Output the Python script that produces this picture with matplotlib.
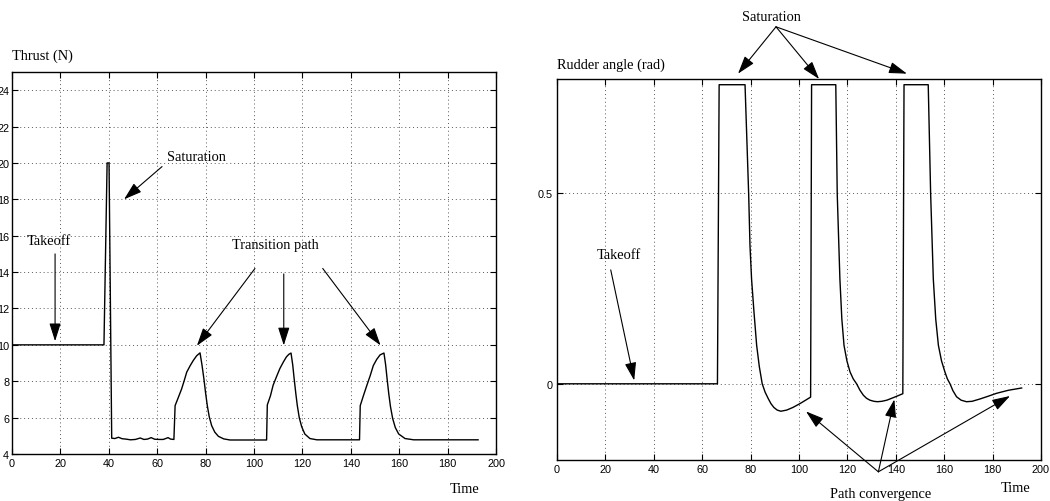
import matplotlib
matplotlib.use("Agg")
import matplotlib.pyplot as plt

# thrust (N) over time
thrust_t = [0, 38, 39.3, 40.1, 41.2, 42.5, 44, 45.5, 47, 49, 51, 53, 54.5, 56, 57.5,
            59, 61, 62.5, 64.5, 65.5, 66.9,
            67.4, 68.7, 70.1, 71.2, 72.2, 73.6, 74.9, 76.3, 77.7,
            78.5, 79.3, 80.0, 80.7, 81.5, 82.5, 83.8, 85.3, 87.5, 90.1,
            105.2, 105.5, 106.8, 107.9, 109.3, 110.7, 112.1, 113.4, 114.4, 115.3,
            116.0, 116.6, 117.3, 117.9, 118.7, 119.7, 121.0, 123.1, 126.0,
            143.6, 143.9, 145.2, 146.6, 148.0, 149.3, 150.7, 152.1, 153.7,
            154.4, 155.0, 155.7, 156.4, 157.3, 158.4, 159.8, 162.4, 166.0, 192.6]
thrust_v = [10, 10, 20, 20, 4.87, 4.85, 4.92, 4.84, 4.82, 4.78, 4.80, 4.88, 4.80, 4.82, 4.90,
            4.81, 4.80, 4.80, 4.90, 4.82, 4.80,
            6.66, 7.1, 7.58, 8.05, 8.5, 8.85, 9.14, 9.4, 9.56,
            8.9, 8.13, 7.35, 6.66, 6.05, 5.56, 5.2, 4.97, 4.83, 4.77,
            4.77, 6.7, 7.2, 7.78, 8.25, 8.7, 9.05, 9.34, 9.48, 9.55,
            8.9, 8.13, 7.3, 6.66, 6.0, 5.5, 5.1, 4.85, 4.78,
            4.78, 6.66, 7.2, 7.76, 8.3, 8.86, 9.2, 9.45, 9.55,
            8.9, 8.13, 7.3, 6.6, 5.95, 5.45, 5.1, 4.85, 4.78, 4.78]

# rudder angle (rad) over time
rudder_t = [0, 66.3, 67, 77.7, 79.2, 79.75, 80.4, 81.4, 82.5, 83.6, 84.8, 86.0, 87.3, 88.4,
            89.6, 91.0, 92.5, 94.9, 97.5, 100.4, 104.8,
            105.2, 115.2, 115.8, 116.9, 117.7, 118.6, 119.8, 121.1, 122.4, 123.8, 125.2,
            126.6, 127.9, 129.3, 131.0, 132.4, 134.2, 136.3, 139.5, 142.9,
            143.4, 153.4, 154.4, 155.5, 156.5, 157.6, 158.9, 160.3, 161.3, 162.4, 163.6,
            165.1, 167.0, 169.2, 171.5, 174.7, 178.0, 181.6, 186.5, 192]
rudder_v = [0, 0, 0.785, 0.785, 0.498, 0.362, 0.275, 0.188, 0.101, 0.045, 0.0, -0.022, -0.039,
            -0.052, -0.062, -0.069, -0.072, -0.069, -0.062, -0.052, -0.035,
            0.785, 0.785, 0.498, 0.275, 0.17, 0.101, 0.06, 0.031, 0.013, 0.0, -0.017,
            -0.030, -0.038, -0.043, -0.046, -0.047, -0.046, -0.043, -0.035, -0.026,
            0.785, 0.785, 0.498, 0.275, 0.17, 0.101, 0.06, 0.031, 0.013, 0.0, -0.018,
            -0.034, -0.043, -0.047, -0.046, -0.040, -0.033, -0.025, -0.017, -0.011]

x_ticks = list(range(0, 201, 20))
thrust_ticks = list(range(4, 25, 2))
rudder_ticks = [0, 0.5]

serif = "Liberation Serif"
sans = "Liberation Sans"
fs_txt = 10.4
arw = dict(arrowstyle="-|>,head_length=0.85,head_width=0.27", mutation_scale=13,
           lw=0.8, color="k", shrinkA=0, shrinkB=0)

fig = plt.figure(figsize=(10.5, 5.02), dpi=100)
ax1 = fig.add_axes([12 / 1050, 47 / 502, 484 / 1050, 382 / 502])
ax2 = fig.add_axes([557 / 1050, 41 / 502, 484 / 1050, 381 / 502])

for ax in (ax1, ax2):
    ax.set_xlim(0, 200)
    ax.set_xticks(x_ticks)
    ax.grid(True, color="0.35", linestyle=(0, (1, 3)), linewidth=0.7)
    ax.tick_params(direction="in", length=4, width=0.8, top=True, right=True,
                   labelsize=7.8, pad=3)
    for s in ax.spines.values():
        s.set_linewidth(1.0)

# left panel
ax1.plot(thrust_t, thrust_v, color="k", lw=1.0)
ax1.set_ylim(4, 25)
ax1.set_yticks(thrust_ticks)
ax1.tick_params(axis="y", pad=2)
ax1.text(0, 25.93, "Thrust (N)", family=serif, fontsize=fs_txt, ha="left", va="center")
ax1.text(76.4, 20.36, "Saturation", family=serif, fontsize=fs_txt, ha="center", va="center")
ax1.annotate("", xy=(46.3, 18.0), xytext=(62, 19.8), arrowprops=arw)
ax1.text(15.3, 15.74, "Takeoff", family=serif, fontsize=fs_txt, ha="center", va="center")
ax1.annotate("", xy=(17.8, 10.2), xytext=(17.8, 15.0), arrowprops=arw)
ax1.text(108.9, 15.5, "Transition path", family=serif, fontsize=fs_txt, ha="center", va="center")
ax1.annotate("", xy=(76.4, 9.95), xytext=(100.4, 14.2), arrowprops=arw)
ax1.annotate("", xy=(112.3, 9.97), xytext=(112.3, 13.9), arrowprops=arw)
ax1.annotate("", xy=(152.3, 9.97), xytext=(128.4, 14.2), arrowprops=arw)
ax1.text(187.2, 2.13, "Time", family=serif, fontsize=fs_txt, ha="center", va="center")

# right panel
ax2.plot(rudder_t, rudder_v, color="k", lw=1.0)
ax2.set_ylim(-0.2, 0.8)
ax2.set_yticks(rudder_ticks)
ax2.set_yticklabels(["0", "0.5"])
ax2.text(0, 0.838, "Rudder angle (rad)", family=serif, fontsize=fs_txt, ha="left", va="center")
ax2.text(88.8, 0.963, "Saturation", family=serif, fontsize=fs_txt, ha="center", va="center")
for tx, ty in [(74.8, 0.814), (108.3, 0.80), (144.6, 0.814)]:
    ax2.annotate("", xy=(tx, ty), xytext=(90.5, 0.937), arrowprops=arw,
                 annotation_clip=False)
ax2.text(25.6, 0.34, "Takeoff", family=serif, fontsize=fs_txt, ha="center", va="center")
ax2.annotate("", xy=(31.9, 0.0087), xytext=(22.2, 0.299), arrowprops=arw)
ax2.text(133.9, -0.288, "Path convergence", family=serif, fontsize=fs_txt, ha="center", va="center")
for tx, ty in [(102.9, -0.0725), (139.4, -0.041), (187.2, -0.032)]:
    ax2.annotate("", xy=(tx, ty), xytext=(132.8, -0.231), arrowprops=arw,
                 annotation_clip=False)
ax2.text(189.3, -0.272, "Time", family=serif, fontsize=fs_txt, ha="center", va="center")

for ax in (ax1, ax2):
    for lab in ax.get_xticklabels() + ax.get_yticklabels():
        lab.set_fontfamily(sans)

fig.savefig("out.png", dpi=100)
